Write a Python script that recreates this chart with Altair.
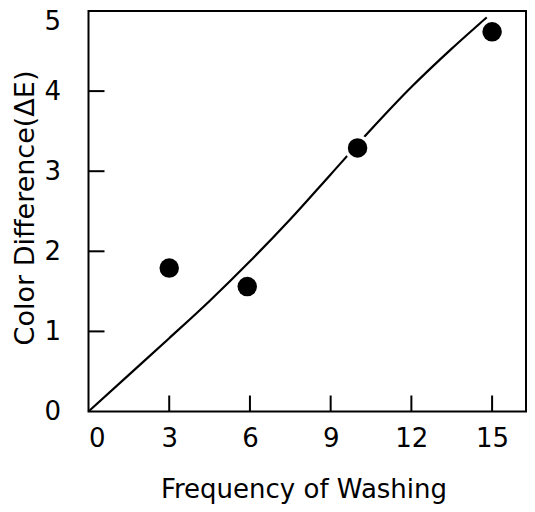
import altair as alt
import pandas as pd

# measured points
wash = [3, 5.9, 10.0, 15.0]
delta_e = [1.79, 1.56, 3.29, 4.74]

# fitted curve
curve_x = [0, 1.5, 3, 4.5, 6, 7.5, 9, 10.5, 12, 13.5, 14.8]
curve_y = [0, 0.458, 0.915, 1.38, 1.875, 2.40, 2.96, 3.52, 4.05, 4.53, 4.92]

x_ticks = [0, 3, 6, 9, 12, 15]
y_ticks = [0, 1, 2, 3, 4, 5]

pts = pd.DataFrame({"x": wash, "y": delta_e})
crv = pd.DataFrame({"x": curve_x, "y": curve_y})
xt = pd.DataFrame({"t": [v for v in x_ticks if v != 0]})
yt = pd.DataFrame({"t": [v for v in y_ticks if v != 0]})

W, H = 437.5, 400.5
FONT = "DejaVu Sans"
xs = alt.Scale(domain=[0, 16.26], nice=False, zero=False)
ys = alt.Scale(domain=[0, 5], nice=False, zero=False)

x_axis = alt.Axis(values=x_ticks, title="Frequency of Washing", labelPadding=14, format="d",
                  titleX=215, titleY=85.5, titleBaseline="alphabetic", titleAlign="center",
                  titleFontSize=26)
y_axis = alt.Axis(values=y_ticks, title="Color Difference(ΔE)", labelPadding=28, format="d",
                  titleX=-55.5, titleY=196.5, titleBaseline="alphabetic", titleAlign="center",
                  titleAngle=270, titleFontSize=27,
                  labelOffset={"condition": {"test": "datum.value == 5", "value": 10}, "value": 0})

line = alt.Chart(crv).mark_line(color="black", strokeWidth=2.2, interpolate="monotone").encode(
    x=alt.X("x:Q", scale=xs, axis=x_axis),
    y=alt.Y("y:Q", scale=ys, axis=y_axis),
    order="x:Q",
)

halo = alt.Chart(pts).mark_circle(color="white", opacity=1, size=707).encode(
    x=alt.X("x:Q", scale=xs), y=alt.Y("y:Q", scale=ys)
)
dots = alt.Chart(pts).mark_circle(color="black", opacity=1, size=380).encode(
    x=alt.X("x:Q", scale=xs), y=alt.Y("y:Q", scale=ys)
)

xtick = alt.Chart(xt).mark_rule(color="black", strokeWidth=2).encode(
    x=alt.X("t:Q", scale=xs), y=alt.value(H), y2=alt.value(H - 16)
)
ytick = alt.Chart(yt).mark_rule(color="black", strokeWidth=2).encode(
    y=alt.Y("t:Q", scale=ys), x=alt.value(0), x2=alt.value(16)
)

chart = alt.layer(line, halo, dots, xtick, ytick).properties(
    width=W, height=H, background="white",
    autosize=alt.AutoSizeParams(type="none"),
    padding={"left": 80.5, "top": 3, "right": 1, "bottom": 92.5},
).configure_view(
    stroke="black", strokeWidth=2
).configure_axis(
    domain=False, ticks=False, tickSize=0, grid=False,
    labelFont=FONT, labelFontSize=26, labelColor="black",
    titleFont=FONT, titleFontWeight="normal", titleColor="black",
)

chart.save("out.html", embed_options={"renderer": "svg", "actions": False})
